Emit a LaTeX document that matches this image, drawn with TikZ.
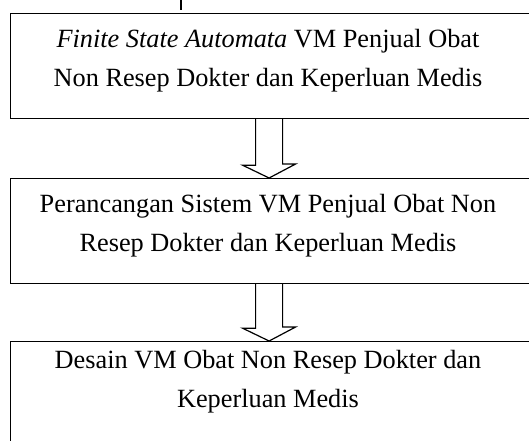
\documentclass[tikz,border=0pt]{standalone}
\usepackage{fontspec}
\setmainfont{Liberation Serif}
\usetikzlibrary{calc}
\begin{document}
\begin{tikzpicture}[x=1pt,y=1pt,
  box/.style={draw=black,line width=1.2pt,minimum width=521pt,minimum height=105pt,anchor=north west,inner sep=0pt},
  txt/.style={align=center,font=\fontsize{26.3}{39}\selectfont,inner sep=0pt},
  barrow/.style={draw=black,line width=1.2pt,line join=miter}]
\useasboundingbox (0,0) rectangle (529,-440);
\clip (0,0) rectangle (529,-440);
\node[box] (b1) at (10,-13) {};
\node[box] (b2) at (10,-178) {};
\node[box] (b3) at (10,-341) {};
\node[txt] (t1) at (268,-61) {\textit{Finite State Automata} VM Penjual Obat\\Non Resep Dokter dan Keperluan Medis};
\node[txt] (t2) at (268,-226) {Perancangan Sistem VM Penjual Obat Non\\Resep Dokter dan Keperluan Medis};
\node[txt] (t3) at (268,-382) {Desain VM Obat Non Resep Dokter dan\\Keperluan Medis};
% block arrows
\draw[barrow] ([xshift=-15.5pt]b1.south) -- ++(0,-46) -- ++(-13,0)
  -- ([xshift=-2pt]b2.north) -- ++(26.5,14) -- ++(-13,0) -- ([xshift=11.5pt]b1.south);
\draw[barrow] ([xshift=-15.5pt]b2.south) -- ++(0,-44) -- ++(-13,0)
  -- ([xshift=-2pt]b3.north) -- ++(26.5,14) -- ++(-13,0) -- ([xshift=11.5pt]b2.south);
% clipped stub at top
\coordinate (s0) at (181,0);
\coordinate (s1) at (181,-10);
\draw[line width=1.2pt] (s0) -- (s1);
\end{tikzpicture}
\end{document}
